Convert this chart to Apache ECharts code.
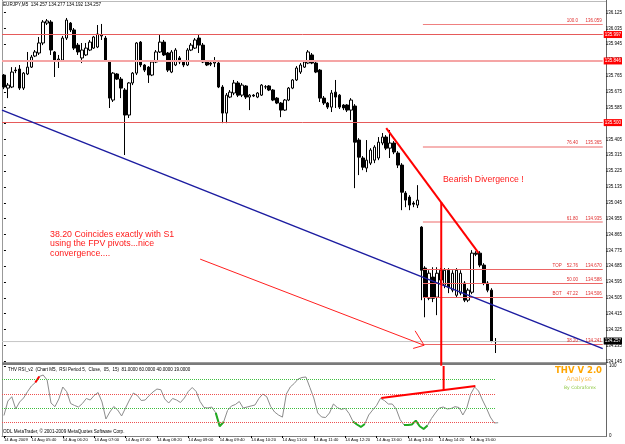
<!DOCTYPE html>
<html>
<head>
<meta charset="utf-8">
<script src="https://cdn.jsdelivr.net/npm/echarts@6/dist/echarts.min.js"></script>
<style>
html, body { margin: 0; padding: 0; background: #fff; }
#chart { width: 625px; height: 444px; }
</style>
</head>
<body>
<div id="chart"></div>
<script>
// EURJPY M5, 14 Aug 2009, bars from 05:05 to 15:35
const barOpen = [135.770,135.696,135.702,135.798,135.804,135.696,135.776,135.815,135.878,135.895,
  135.952,136.065,136.071,135.901,135.855,135.855,135.980,136.065,136.026,135.940,
  135.867,135.884,135.912,135.923,135.929,135.992,135.980,135.844,135.628,135.776,
  135.747,135.685,135.543,135.725,135.781,135.957,135.827,135.815,135.770,135.844,
  135.901,135.957,135.895,135.787,135.827,135.867,135.844,135.827,135.912,135.923,
  135.980,135.940,135.844,135.838,135.838,135.838,135.702,135.554,135.645,135.668,
  135.725,135.656,135.708,135.645,135.656,135.645,135.656,135.702,135.708,135.685,
  135.639,135.611,135.571,135.628,135.696,135.742,135.787,135.815,135.838,135.884,
  135.838,135.798,135.639,135.611,135.588,135.673,135.656,135.600,135.600,135.571,
  135.594,135.401,135.299,135.242,135.270,135.287,135.299,135.384,135.418,135.355,
  135.384,135.327,135.259,135.100,135.077,135.043,135.032,134.907,134.674,134.503,
  134.623,134.509,134.606,134.577,134.662,134.549,134.520,134.532,134.589,134.492,
  134.537,134.759,134.759,134.691,134.589,134.549,134.257]
const barHigh = [135.776,135.725,135.815,135.815,135.827,135.787,135.901,135.884,135.912,135.986,
  136.082,136.088,136.082,135.906,135.884,135.992,136.094,136.071,136.037,135.952,
  135.952,135.952,135.969,135.992,136.054,136.060,135.992,135.855,135.787,135.781,
  135.759,135.696,135.730,135.787,135.957,135.963,135.832,135.821,135.855,135.912,
  135.997,135.969,135.901,135.912,135.923,135.878,135.855,135.923,135.952,135.980,
  135.997,135.952,135.855,135.850,135.872,135.844,135.713,135.668,135.685,135.742,
  135.736,135.725,135.713,135.662,135.662,135.673,135.719,135.713,135.713,135.690,
  135.645,135.617,135.634,135.702,135.747,135.821,135.838,135.855,135.912,135.895,
  135.844,135.804,135.651,135.617,135.685,135.742,135.662,135.605,135.605,135.639,
  135.605,135.412,135.310,135.401,135.355,135.372,135.418,135.441,135.429,135.458,
  135.395,135.338,135.270,135.111,135.088,135.054,135.145,134.912,134.685,134.662,
  134.679,134.679,134.674,134.674,134.674,134.662,134.674,134.662,134.600,134.560,
  134.776,134.770,134.770,134.702,134.600,134.560,134.277]
const barLow = [135.690,135.639,135.696,135.781,135.685,135.685,135.770,135.810,135.872,135.884,
  135.940,136.054,135.884,135.759,135.810,135.844,135.969,136.014,135.912,135.884,
  135.838,135.878,135.906,135.918,135.923,135.969,135.844,135.583,135.617,135.742,
  135.639,135.316,135.526,135.713,135.770,135.815,135.787,135.725,135.764,135.838,
  135.895,135.878,135.787,135.781,135.821,135.832,135.815,135.821,135.906,135.918,
  135.895,135.838,135.821,135.821,135.815,135.696,135.497,135.497,135.639,135.656,
  135.645,135.645,135.634,135.571,135.645,135.639,135.651,135.690,135.679,135.622,
  135.605,135.531,135.566,135.622,135.690,135.736,135.776,135.810,135.832,135.832,
  135.781,135.617,135.600,135.577,135.560,135.583,135.577,135.571,135.560,135.514,
  135.128,135.202,135.230,135.219,135.259,135.270,135.287,135.372,135.344,135.299,
  135.321,135.242,135.003,135.020,135.003,135.020,135.015,134.492,134.395,134.492,
  134.481,134.407,134.589,134.560,134.532,134.537,134.509,134.520,134.481,134.481,
  134.526,134.742,134.679,134.577,134.537,134.253,134.192]
const barClose = [135.702,135.713,135.787,135.795,135.696,135.781,135.815,135.872,135.901,135.952,
  136.071,136.077,135.912,135.855,135.861,135.980,136.082,136.026,135.923,135.901,
  135.912,135.923,135.957,135.986,136.003,135.997,135.855,135.639,135.781,135.747,
  135.696,135.543,135.725,135.781,135.952,135.827,135.798,135.770,135.844,135.901,
  135.957,135.884,135.798,135.901,135.912,135.844,135.827,135.912,135.940,135.969,
  135.940,135.844,135.827,135.832,135.844,135.702,135.554,135.656,135.673,135.725,
  135.656,135.713,135.645,135.656,135.651,135.668,135.713,135.704,135.685,135.628,
  135.611,135.571,135.628,135.696,135.742,135.810,135.827,135.844,135.901,135.838,
  135.787,135.639,135.611,135.588,135.668,135.645,135.588,135.583,135.571,135.628,
  135.389,135.304,135.247,135.287,135.344,135.361,135.389,135.418,135.355,135.384,
  135.333,135.259,135.105,135.060,135.032,135.037,135.060,134.662,134.509,134.645,
  134.503,134.645,134.662,134.662,134.566,134.645,134.662,134.645,134.492,134.549,
  134.759,134.753,134.691,134.589,134.549,134.259,134.257]

// THV RSI_v2, period 5
const rsiValues = [29.3,50,56.1,38.6,48.6,54.3,63.3,71.4,76.4,85,
  87.1,80,47.1,41.9,52.9,70,63.3,46.4,43.6,41.4,
  46.4,53.6,51.4,57.9,62.1,48.6,24.3,34.3,42.1,37.1,
  28.6,40,51.4,61.4,57.9,50.7,51.4,57.6,62.9,67.1,
  66.1,52.9,47.1,53.6,51.4,47.9,54.3,63.6,69.3,63.6,
  49.3,40.7,40,41.4,33,14,20,36.4,42.9,45,
  49.3,40,41.4,42.9,44.3,53.6,60,56.1,42.1,34.3,
  30,27,60,70,75,81.4,83.6,84.3,69.3,54.3,
  32.9,27.1,26.4,32.9,45.7,40.7,37.9,39.5,32.1,20.7,
  16.4,12.9,17.1,30,37.1,43.6,53.9,50.7,45.7,45.7,
  38.6,23.6,15.7,15.7,16.4,22,14,10,15,25,
  32.9,40,41.4,38.6,39.3,41.9,40.7,30,40,60,
  70,64.3,51.4,40,27.1,18.6,19]
const rsiRedRanges = [[8, 9]]
const rsiGreenRanges = [[54, 56], [89, 92], [102, 108]]
const rsiLevels = [81, 60, 40, 19]
const rsiLevelColors = ['#3fbf3f', '#ee5050', '#3fbf3f', '#ee5050']

const tickBars = [0, 7, 15, 23, 31, 39, 47, 55, 63, 71, 79, 87, 95, 103, 111, 119]
const tickLabels = ['14 Aug 2009', '14 Aug 05:40', '14 Aug 06:20', '14 Aug 07:00', '14 Aug 07:40',
  '14 Aug 08:20', '14 Aug 09:00', '14 Aug 09:40', '14 Aug 10:20', '14 Aug 11:00', '14 Aug 11:40',
  '14 Aug 12:20', '14 Aug 13:00', '14 Aug 13:40', '14 Aug 14:20', '14 Aug 15:00']

const pivotPrices = [135.997, 135.846, 135.500]
const fibNames = ['100.0', '76.40', '61.80', 'TOP    52.76', '50.00', 'BOT    47.22', '38.20']
const fibPrices = [136.059, 135.365, 134.935, 134.670, 134.588, 134.506, 134.241]
const lastPrice = 134.257

const barCount = 154        // visible slots incl. chart shift
const firstBarMinute = 305  // 05:05

const font = 'Liberation Sans, Arial, sans-serif'

function pad2(n) { return (n < 10 ? '0' : '') + n }
const categories = []
for (let i = 0; i < barCount; i++) {
  const m = firstBarMinute + 5 * i
  categories.push(pad2(Math.floor(m / 60)) + ':' + pad2(m % 60))
}
const isTick = (idx) => tickBars.indexOf(idx) >= 0

const candles = barOpen.map((o, i) => [o, barClose[i], barLow[i], barHigh[i]])

function pick(ranges) {
  return rsiValues.map((v, i) => ranges.some(r => i >= r[0] && i <= r[1]) ? v : '-')
}

// straight overlay line on the value x axes (bar index units)
function seg(points, color, width, xi, yi, extra) {
  return Object.assign({
    type: 'line', xAxisIndex: xi, yAxisIndex: yi, data: points,
    showSymbol: false, symbol: 'none', silent: true, z: 5,
    lineStyle: { color: color, width: width }
  }, extra || {})
}

const fibWidths = [1, 2, 2, 1, 1, 1, 1]
const fibColors = ['#ef8080', '#f6b4b4', '#f6b4b4', '#ec6565', '#ec6565', '#ec6565', '#ec6565']
const fibLines = fibPrices.map((p, i) => [
  {
    coord: [107.4, p],
    lineStyle: { color: fibColors[i], width: fibWidths[i], type: 'solid' },
    label: {
      show: true, position: 'insideEndTop', distance: 1,
      formatter: fibNames[i] + '      ' + p.toFixed(3),
      color: '#e03030', fontSize: 4.5, fontFamily: font
    }
  },
  { coord: [153.5, p] }
])
const pivotLines = pivotPrices.map((p, i) => ({
  yAxis: p,
  lineStyle: { color: i === 1 ? '#f5a5a5' : '#e65a5a', width: i === 1 ? 2 : 1, type: 'solid' },
  label: {
    show: true, position: 'end', distance: 1, formatter: p.toFixed(3),
    backgroundColor: '#ff0000', color: '#fff', fontSize: 4.5, padding: [1, 1], fontFamily: font
  }
}))
const bidLine = {
  yAxis: lastPrice,
  lineStyle: { color: '#c8c8c8', width: 1, type: 'solid' },
  label: {
    show: true, position: 'end', distance: 1, formatter: lastPrice.toFixed(3),
    backgroundColor: '#000', color: '#fff', fontSize: 4.5, padding: [1, 1], fontFamily: font
  }
}
const rsiLevelLines = rsiLevels.map((v, i) => [
  { coord: [-0.5, v], lineStyle: { color: rsiLevelColors[i], width: 1, type: 'dotted' } },
  { coord: [125.3, v] }
])

const chart = echarts.init(document.getElementById('chart'))
const option = {
  animation: false,
  backgroundColor: '#fff',
  textStyle: { fontFamily: font },
  grid: [
    { left: 2, right: 19, top: 3, height: 358.3 },
    { left: 2, right: 19, top: 366, height: 70 }
  ],
  xAxis: [
    { type: 'category', gridIndex: 0, data: categories, boundaryGap: true, show: false },
    {
      type: 'category', gridIndex: 1, data: categories, boundaryGap: true,
      axisLine: { lineStyle: { color: '#808080' } },
      axisTick: { show: true, length: 2, alignWithLabel: true, interval: isTick, lineStyle: { color: '#000' } },
      axisLabel: {
        interval: isTick, formatter: (v, idx) => tickLabels[tickBars.indexOf(idx)] || '',
        fontSize: 4.2, color: '#000', align: 'left', margin: 1.5, fontFamily: font
      },
      splitLine: { show: false }
    },
    { type: 'value', gridIndex: 0, min: -0.5, max: 153.5, show: false },
    { type: 'value', gridIndex: 1, min: -0.5, max: 153.5, show: false }
  ],
  yAxis: [
    {
      type: 'value', gridIndex: 0, position: 'right', min: 134.145, max: 136.179, interval: 0.09,
      axisLine: { show: false },
      axisTick: { show: true, length: 2, lineStyle: { color: '#000' } },
      axisLabel: {
        fontSize: 4.5, color: '#000', margin: 3, showMaxLabel: false, fontFamily: font,
        formatter: v => v.toFixed(3)
      },
      splitLine: { show: false }
    },
    {
      type: 'value', gridIndex: 1, position: 'right', min: 0, max: 100, interval: 100,
      axisLine: { show: false },
      axisTick: { show: true, length: 2, lineStyle: { color: '#000' } },
      axisLabel: { fontSize: 4.5, color: '#000', margin: 3, fontFamily: font },
      splitLine: { show: false }
    }
  ],
  series: [
    // last price line, pivots and fibonacci levels (behind the bars)
    seg([[-0.5, lastPrice], [153.5, lastPrice]], '#c8c8c8', 1, 2, 0, {
      z: 1,
      markLine: {
        silent: true, symbol: ['none', 'none'], animation: false,
        data: pivotLines.concat([bidLine]).concat(fibLines)
      }
    }),
    {
      type: 'candlestick', xAxisIndex: 0, yAxisIndex: 0, data: candles, barWidth: 3, z: 3,
      silent: true,
      itemStyle: { color: '#fff', color0: '#000', borderColor: '#000', borderColor0: '#000', borderWidth: 1 }
    },
    // trend line
    seg([[-0.5, 135.571], [153.5, 134.217]], '#1c1ca0', 1.5, 2, 0),
    // arrow to the 38.20 level
    seg([[50.3, 134.725], [107.7, 134.236]], '#ff2020', 1, 2, 0),
    seg([[105.4, 134.318], [107.7, 134.236], [104.9, 134.218]], '#ff2020', 1, 2, 0),
    // bearish divergence on price
    seg([[98.0, 135.469], [121.7, 134.759]], '#ff0000', 2, 2, 0),
    seg([[112.1, 135.049], [112.1, 134.12]], '#ff0000', 2, 2, 0, { clip: false }),
    // RSI pane
    seg([[-0.5, 50], [-0.5, 50]], '#fff', 0, 3, 1, {
      z: 1,
      markLine: { silent: true, symbol: ['none', 'none'], animation: false, label: { show: false }, data: rsiLevelLines }
    }),
    {
      type: 'line', xAxisIndex: 1, yAxisIndex: 1, data: rsiValues, showSymbol: false, symbol: 'none',
      silent: true, z: 3, lineStyle: { color: '#8c8c8c', width: 1 }
    },
    {
      type: 'line', xAxisIndex: 1, yAxisIndex: 1, data: pick(rsiRedRanges), showSymbol: false, symbol: 'none',
      silent: true, z: 4, lineStyle: { color: '#ff0000', width: 2 }
    },
    {
      type: 'line', xAxisIndex: 1, yAxisIndex: 1, data: pick(rsiGreenRanges), showSymbol: false, symbol: 'none',
      silent: true, z: 4, lineStyle: { color: '#22aa22', width: 2 }
    },
    seg([[96.2, 54.3], [120.2, 71.4]], '#ff0000', 2, 3, 1),
    seg([[112.1, 100], [112.1, 65.7]], '#ff0000', 2, 3, 1)
  ],
  graphic: [
    { type: 'line', z: -1, shape: { x1: 2.5, y1: 0, x2: 2.5, y2: 436 }, style: { stroke: '#999', lineWidth: 1 } },
    { type: 'line', z: -1, shape: { x1: 2, y1: 1.5, x2: 606, y2: 1.5 }, style: { stroke: '#bbb', lineWidth: 1 } },
    { type: 'line', z: -1, shape: { x1: 606.5, y1: 0, x2: 606.5, y2: 437 }, style: { stroke: '#666', lineWidth: 1 } },
    { type: 'rect', z: -1, shape: { x: 2, y: 362.3, width: 605, height: 2.6 }, style: { fill: '#7a7a7a' } },
    { type: 'text', left: 3, top: 2.3, style: { text: 'EURJPY,M5  134.257 134.277 134.192 134.257', fontSize: 4.6, fill: '#000', fontFamily: font } },
    { type: 'text', left: 8, top: 366.8, style: { text: 'THV RSI_v2  (Chart M5,  RSI Period 5,  Close,  05,  15)  81.0000 60.0000 40.0000 19.0000', fontSize: 4.5, fill: '#000', fontFamily: font } },
    { type: 'text', left: 3, top: 428.8, style: { text: 'ODL MetaTrader, \u00a9 2001-2009 MetaQuotes Software Corp.', fontSize: 4.6, fill: '#000', fontFamily: font } },
    { type: 'text', left: 50, top: 229.5, style: { text: '38.20 Coincides exactly with S1\nusing the FPV pivots...nice\nconvergence....', fontSize: 8.8, lineHeight: 9.5, fill: '#ff1a1a', fontFamily: font } },
    { type: 'text', left: 443, top: 175.5, style: { text: 'Bearish Divergence !', fontSize: 8.7, fill: '#ff1a1a', fontFamily: font } },
    { type: 'text', x: 578.5, y: 371, style: { text: 'THV V 2.0', fontSize: 8.5, fontWeight: 'bold', fill: '#ffa500', fontFamily: 'DejaVu Sans', align: 'center', verticalAlign: 'middle' } },
    { type: 'text', x: 579, y: 379.5, style: { text: 'Analyse', fontSize: 6.5, fill: '#f7bd5c', fontFamily: 'DejaVu Sans', align: 'center', verticalAlign: 'middle' } },
    { type: 'text', x: 580, y: 387.5, style: { text: 'By Cobraforex', fontSize: 4.5, fill: '#8cc63f', fontFamily: 'DejaVu Sans', align: 'center', verticalAlign: 'middle' } }
  ]
}
chart.setOption(option)
window.addEventListener('resize', () => chart.resize())
</script>
</body>
</html>
